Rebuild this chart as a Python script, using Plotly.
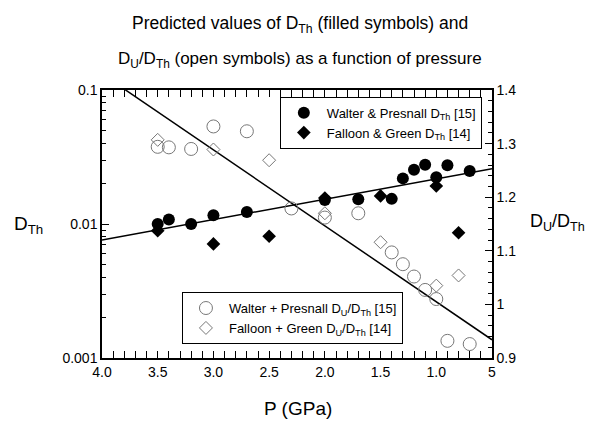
import plotly.graph_objects as go

# ---- data ----
wp_P = [3.5, 3.4, 3.2, 3.0, 2.7, 2.0, 1.7, 1.4, 1.3, 1.2, 1.1, 1.0, 0.9, 0.7]
wp_DTh = [0.0100, 0.0108, 0.0100, 0.0116, 0.0123, 0.0151, 0.0153, 0.0154, 0.0219, 0.0254, 0.0277, 0.0223, 0.0274, 0.0249]

fg_P = [3.5, 3.0, 2.5, 2.0, 1.5, 1.0, 0.8]
fg_DTh = [0.0089, 0.0071, 0.0081, 0.0156, 0.0162, 0.0192, 0.0086]

wp2_P = [3.5, 3.4, 3.2, 3.0, 2.7, 2.3, 2.0, 1.7, 1.4, 1.3, 1.2, 1.1, 1.0, 0.9, 0.7]
wp_ratio = [1.294, 1.293, 1.290, 1.332, 1.323, 1.179, 1.162, 1.170, 1.097, 1.075, 1.052, 1.027, 1.010, 0.932, 0.926]

fg2_P = [3.5, 3.0, 2.5, 2.0, 1.5, 1.0, 0.8]
fg_ratio = [1.307, 1.289, 1.269, 1.170, 1.116, 1.035, 1.054]

fit1_P = [4.0, 0.5]
fit1_DTh = [0.0076, 0.0259]
fit2_P = [4.0, 0.5]
fit2_ratio = [1.430, 0.934]

x_tickvals = [4.0, 3.5, 3.0, 2.5, 2.0, 1.5, 1.0, 0.5]
x_ticktext = ["4.0", "3.5", "3.0", "2.5", "2.0", "1.5", "1.0", "5"]
y_tickvals = [0.001, 0.01, 0.1]
y_ticktext = ["0.001", "0.01", "0.1"]
y2_tickvals = [0.9, 1.0, 1.1, 1.2, 1.3, 1.4]
y2_ticktext = ["0.9", "1", "1.1", "1.2", "1.3", "1.4"]

FONT = "Liberation Sans, Arial, sans-serif"
GRAY = "#777777"

fig = go.Figure()

fig.add_trace(go.Scatter(x=fit1_P, y=fit1_DTh, mode="lines", line=dict(color="black", width=1.5),
                         showlegend=False, hoverinfo="skip"))
fig.add_trace(go.Scatter(x=fit2_P, y=fit2_ratio, mode="lines", yaxis="y2",
                         line=dict(color="black", width=1.5), showlegend=False, hoverinfo="skip"))

fig.add_trace(go.Scatter(x=wp_P, y=wp_DTh, mode="markers", name="Walter &amp; Presnall D<sub>Th</sub> [15]",
                         marker=dict(symbol="circle", size=12, color="black"), legend="legend"))
fig.add_trace(go.Scatter(x=fg_P, y=fg_DTh, mode="markers", name="Falloon &amp; Green D<sub>Th</sub> [14]",
                         marker=dict(symbol="diamond", size=10.5, color="black"), legend="legend"))
fig.add_trace(go.Scatter(x=wp2_P, y=wp_ratio, mode="markers", yaxis="y2",
                         name="Walter + Presnall D<sub>U</sub>/D<sub>Th</sub> [15]",
                         marker=dict(symbol="circle-open", size=13, color=GRAY, line=dict(width=1)),
                         legend="legend2"))
fig.add_trace(go.Scatter(x=fg2_P, y=fg_ratio, mode="markers", yaxis="y2",
                         name="Falloon + Green D<sub>U</sub>/D<sub>Th</sub> [14]",
                         marker=dict(symbol="diamond-open", size=10, color=GRAY, line=dict(width=1)),
                         legend="legend2"))

axis_common = dict(showline=True, linecolor="black", linewidth=1.5, ticks="inside", ticklen=7,
                   tickwidth=1.2, tickcolor="black", showgrid=False, zeroline=False,
                   tickfont=dict(family=FONT, size=14, color="black"))

fig.update_layout(
    width=599, height=428,
    margin=dict(l=102, r=107, t=90, b=70),
    paper_bgcolor="white", plot_bgcolor="white",
    font=dict(family=FONT, color="black"),
    xaxis=dict(range=[4.0, 0.5], tickmode="array", tickvals=x_tickvals, ticktext=x_ticktext,
               mirror="allticks",
               minor=dict(ticks="inside", ticklen=4, tickcolor="black", tickwidth=1, dtick=0.1, tick0=0),
               **axis_common),
    yaxis=dict(type="log", range=[-3, -1], tickmode="array", tickvals=y_tickvals, ticktext=y_ticktext,
               minor=dict(ticks="inside", ticklen=4, tickcolor="black", tickwidth=1,
                          tickmode="array",
                          tickvals=[k * 10 ** e for e in (-3, -2) for k in range(2, 10)]),
               **axis_common),
    yaxis2=dict(overlaying="y", side="right", range=[0.9, 1.4], tickmode="array",
                tickvals=y2_tickvals, ticktext=y2_ticktext,
                minor=dict(ticks="inside", ticklen=4, tickcolor="black", tickwidth=1, dtick=0.02, tick0=0.9),
                **axis_common),
    legend=dict(x=0.456, y=0.975, xanchor="left", yanchor="top", bordercolor="black", borderwidth=1,
                bgcolor="white", itemwidth=36, font=dict(family=FONT, size=13, color="black")),
    legend2=dict(x=0.205, y=0.246, xanchor="left", yanchor="top", bordercolor="black", borderwidth=1,
                 bgcolor="white", itemwidth=36, font=dict(family=FONT, size=13, color="black")),
    showlegend=True,
)


def px_x(px):
    return (px - 102) / 390


def px_y(py):
    return (358 - py) / 268


fig.add_annotation(text="Predicted values of D<sub>Th</sub> (filled symbols) and", xref="paper", yref="paper",
                   x=px_x(299.5), y=px_y(24), showarrow=False,
                   font=dict(family=FONT, size=17.5, color="black"), xanchor="center", yanchor="middle")
fig.add_annotation(text="D<sub>U</sub>/D<sub>Th</sub> (open symbols) as a function of pressure", xref="paper",
                   yref="paper", x=px_x(299.5), y=px_y(60), showarrow=False,
                   font=dict(family=FONT, size=17, color="black"), xanchor="center", yanchor="middle")

fig.add_annotation(text="D<sub>Th</sub>", xref="paper", yref="paper", x=px_x(28), y=px_y(225),
                   showarrow=False, font=dict(family=FONT, size=19, color="black"), xanchor="center", yanchor="middle")
fig.add_annotation(text="D<sub>U</sub>/D<sub>Th</sub>", xref="paper", yref="paper", x=px_x(528),
                   y=px_y(222), showarrow=False, font=dict(family=FONT, size=18, color="black"),
                   xanchor="left", yanchor="middle")
fig.add_annotation(text="P (GPa)", xref="paper", yref="paper", x=px_x(298), y=px_y(408),
                   showarrow=False, font=dict(family=FONT, size=19, color="black"), xanchor="center", yanchor="middle")

fig.write_html("out.html", config={"displayModeBar": False},
               post_script="document.body.style.margin='0';")
